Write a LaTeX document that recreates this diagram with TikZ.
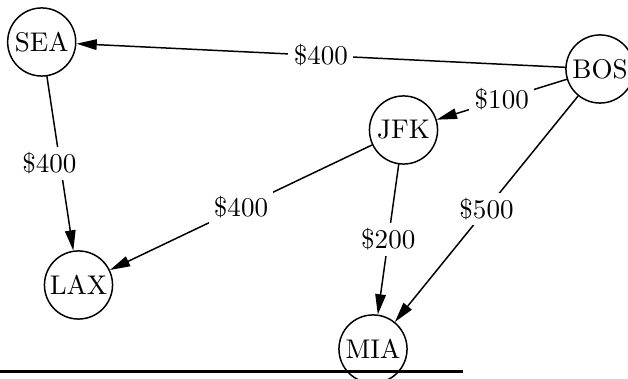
\documentclass[tikz,border=0pt]{standalone}
\usetikzlibrary{arrows.meta}
\tikzset{city/.style={circle,draw,line width=0.55pt,minimum size=25.2pt,inner sep=1pt},
  cost/.style={fill=white,inner sep=2pt}}
\begin{document}
\begin{tikzpicture}[line cap=round,line join=round,>={Triangle[length=7.5pt,width=3.9pt]},x=0.37pt,y=-0.37pt]
\useasboundingbox (0,0) rectangle (628,379);
\node[city] (sea) at (41.7,42) {SEA};
\node[city] (bos) at (600,69) {BOS};
\node[city] (jfk) at (403.5,130) {JFK};
\node[city] (lax) at (78.5,285) {LAX};
\node[city] (mia) at (373,349) {MIA};
\begin{scope}[line width=0.55pt]
\draw[->] (bos) -- node[cost] {\$400} (sea);
\draw[->] (bos) -- node[cost] {\$100} (jfk);
\draw[->] (bos) -- node[cost] {\$500} (mia);
\draw[->] (sea) -- node[cost,xshift=-4pt] {\$400} (lax);
\draw[->] (jfk) -- node[cost] {\$400} (lax);
\draw[->] (jfk) -- node[cost] {\$200} (mia);
\end{scope}
\draw[line width=0.75pt,line cap=butt] (0,371.5)--(463,371.5);
\end{tikzpicture}
\end{document}
